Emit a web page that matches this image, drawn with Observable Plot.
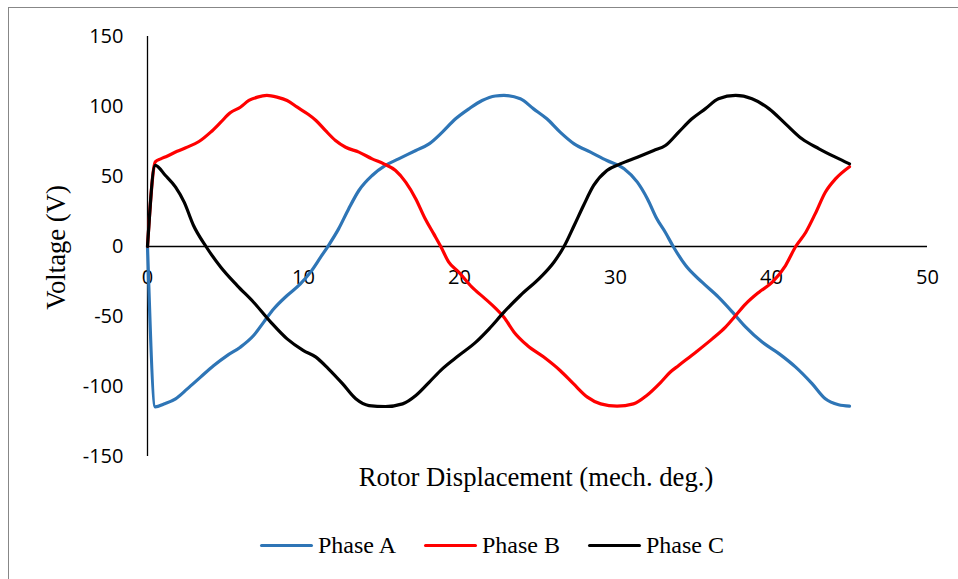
<!DOCTYPE html>
<html>
<head>
<meta charset="utf-8">
<script src="https://cdn.jsdelivr.net/npm/d3@7"></script>
<script src="https://cdn.jsdelivr.net/npm/@observablehq/plot@0.6"></script>
<style>
  html, body { margin: 0; padding: 0; background: #fff; overflow: hidden; }
  #wrap { position: relative; width: 958px; height: 579px; overflow: hidden; }
  #frame { position: absolute; left: 8px; top: 7px; width: 2000px; height: 2000px;
           border-top: 1px solid #878787; border-left: 1px solid #878787; }
  #chart { position: absolute; left: 0; top: 0; }
  #legend { position: absolute; left: 260px; top: 532px; display: flex; align-items: center;
            font-family: "Liberation Serif", "Times New Roman", serif; font-size: 24px; color: #000; }
  .item { display: flex; align-items: center; margin-right: 28px; }
  .swatch { width: 53px; height: 3px; border-radius: 2px; margin-right: 5px; }
</style>
</head>
<body>
<div id="wrap">
  <div id="frame"></div>
  <div id="chart"></div>
  <div id="legend"></div>
</div>
<script>
// ---- data (x = rotor displacement in mech. deg., y = voltage in V) ----
const phaseA = [[0,0],[0.5,-114.5],[1.05,-112.5],[1.8,-108.8],[2.55,-101.7],[3.4,-93.3],[4.25,-85],[5.1,-77.9],[5.95,-71.9],[6.8,-63.6],[7.45,-54],[8.1,-44.5],[8.95,-35],[9.8,-26.7],[10.45,-18.3],[11.1,-7.6],[11.6,0.7],[12.25,12.6],[12.9,27],[13.55,40],[14.4,50.7],[15.25,57.9],[16.1,62.6],[17.2,68.6],[18.05,73.3],[18.9,81.7],[19.75,91.2],[20.6,98.3],[21.45,104.3],[22.3,107.5],[22.85,107.9],[23.9,105.5],[24.75,98.3],[25.6,91.2],[26.45,81.7],[27.35,73.3],[28.4,67.4],[29.45,61.4],[30.55,55.5],[31.4,46],[32.05,34],[32.65,19.8],[33.2,10],[33.7,0],[34.5,-13.6],[35.55,-25.5],[36.6,-36.2],[37.5,-46.9],[38.35,-57.6],[39.4,-68.3],[40.5,-76.7],[41.55,-86.2],[42.6,-98],[43.45,-108.8],[44.3,-113],[45,-114]];
const phaseB = [[0,0],[0.5,60.5],[0.85,62.6],[1.25,64.5],[1.9,68],[2.55,71],[3.3,75],[4.05,81.7],[4.7,88.8],[5.3,95.5],[5.95,99.5],[6.5,104.3],[7.05,106.7],[7.65,107.9],[8.3,106.7],[8.95,104.3],[9.6,99.5],[10.25,94.8],[10.8,90],[11.4,82.9],[12.05,75.7],[12.7,70.9],[13.55,67.4],[14.4,62.6],[15.15,59],[15.9,54.3],[16.55,46],[17.2,34],[17.8,19.8],[18.35,9],[18.8,0],[19.3,-11],[19.95,-18.3],[20.8,-29],[21.65,-37.4],[22.3,-44],[22.85,-50.5],[23.5,-61.2],[24.35,-70.7],[25.4,-79],[26.45,-88.6],[27.3,-98],[28.2,-107.6],[29.05,-112.4],[30.1,-114],[31.15,-112.4],[32,-106.4],[32.9,-97],[33.5,-89.8],[34.05,-85],[35.15,-75.5],[36.2,-66],[37.05,-57.6],[37.7,-49.3],[38.35,-41],[39.2,-32.6],[40.05,-25.5],[40.9,-13.6],[41.55,0],[42.2,10.2],[42.8,23.3],[43.45,38.8],[44.1,48.3],[45,57]];
const phaseC = [[0,0],[0.5,58],[1.15,50.7],[1.8,42.4],[2.35,31.7],[2.95,15],[3.75,0],[4.7,-14.8],[5.75,-27.9],[6.8,-39.8],[7.9,-54],[8.95,-66],[10,-74.3],[10.8,-79],[11.6,-87.4],[12.5,-98],[13.35,-108.8],[14.2,-113.6],[15.25,-114.3],[16.35,-112.4],[17.2,-106.4],[18.05,-97],[18.9,-87.4],[19.95,-77.9],[21.05,-68.3],[21.9,-58.8],[22.85,-46.9],[23.9,-35],[25.2,-21.9],[26.05,-11.2],[26.7,0],[27.35,15],[27.95,29.3],[28.6,43.6],[29.45,54.3],[30.3,59],[31.4,63.8],[32.45,68.6],[33.2,72.1],[34.05,81.7],[34.9,91.2],[35.75,98.3],[36.6,105.5],[37.7,107.9],[38.75,105.5],[39.85,98.3],[40.9,87.6],[41.95,76.9],[43.05,69.8],[44.1,63.8],[45,59]];

const seriesNames = ["Phase A", "Phase B", "Phase C"];
const seriesColors = ["#2E75B6", "#FF0000", "#000000"];
const xTicks = [0, 10, 20, 30, 40, 50];
const yTicks = [-150, -100, -50, 0, 50, 100, 150];
const xLabel = "Rotor Displacement (mech. deg.)";
const yLabel = "Voltage (V)";

const rows = [phaseA, phaseB, phaseC].flatMap((arr, i) =>
  arr.map(([x, y]) => ({x, y, series: seriesNames[i]})));

const serif = "'Liberation Serif', 'Times New Roman', serif";

const chart = Plot.plot({
  width: 958,
  height: 500,
  marginLeft: 147,
  marginRight: 31,
  marginTop: 36,
  marginBottom: 44,
  style: {fontFamily: "'Open Sans', sans-serif", fontSize: "20px", color: "#000", background: "transparent", overflow: "visible"},
  x: {domain: [0, 50], axis: null},
  y: {domain: [-150, 150]},
  color: {domain: seriesNames, range: seriesColors},
  marks: [
    Plot.axisY({ticks: yTicks, tickSize: 0, tickPadding: 24, label: null, fontSize: 20, fill: "#000",
                tickFormat: d => String(d)}),
    Plot.ruleX([0], {y1: -150, y2: 150, stroke: "#000", strokeWidth: 1.3}),
    Plot.ruleY([0], {x1: 0, x2: 50, stroke: "#000", strokeWidth: 1.3}),
    Plot.text(xTicks, {x: d => d, y: 0, text: d => String(d), dy: 31, fontSize: 20, fill: "#000"}),
    Plot.line(rows, {x: "x", y: "y", z: "series", stroke: "series", strokeWidth: 3.2,
                     curve: "monotone-x", strokeLinecap: "round", strokeLinejoin: "round"}),
    Plot.text([yLabel], {frameAnchor: "left", textAnchor: "middle", lineAnchor: "middle", rotate: -90,
                         dx: -91, dy: 1, fontFamily: serif, fontSize: 26.67, fill: "#000"}),
    Plot.text([xLabel], {frameAnchor: "bottom", textAnchor: "middle", lineAnchor: "middle",
                         dx: -1.5, dy: 21, fontFamily: serif, fontSize: 26.67, fill: "#000"})
  ]
});
document.getElementById("chart").appendChild(chart);

const legend = document.getElementById("legend");
seriesNames.forEach((name, i) => {
  const item = document.createElement("div");
  item.className = "item";
  const sw = document.createElement("div");
  sw.className = "swatch";
  sw.style.background = seriesColors[i];
  const label = document.createElement("span");
  label.textContent = name;
  item.appendChild(sw);
  item.appendChild(label);
  legend.appendChild(item);
});
</script>
</body>
</html>
